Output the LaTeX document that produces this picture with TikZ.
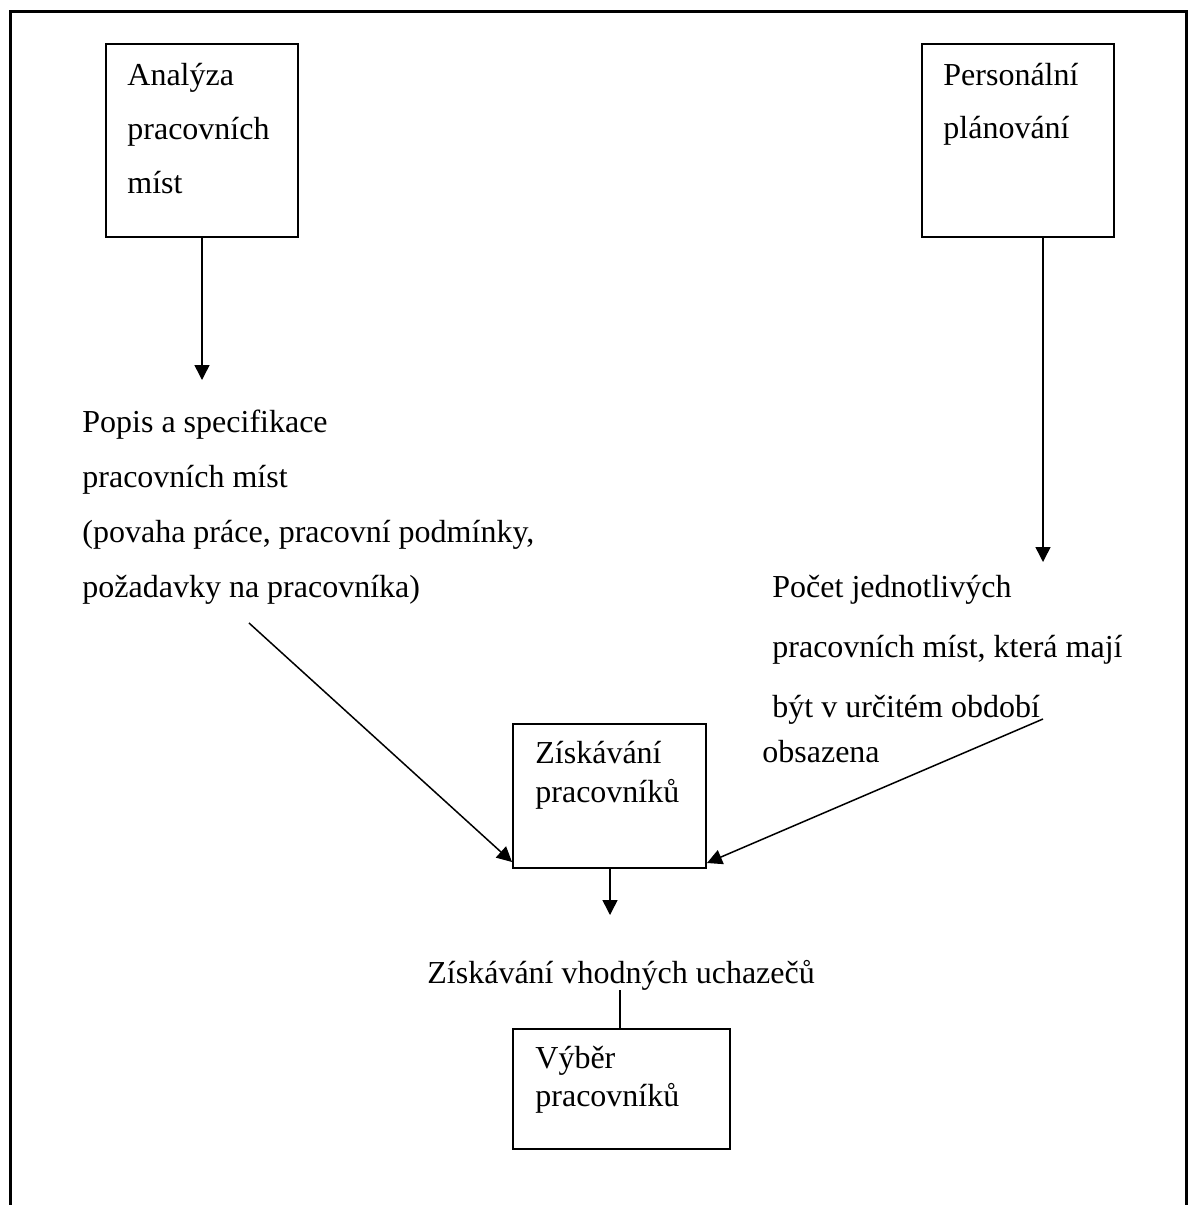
\documentclass[tikz,border=0pt]{standalone}
\usepackage{fontspec}
\setmainfont{Liberation Serif}
\usetikzlibrary{arrows.meta}

\begin{document}
\begin{tikzpicture}[x=0.5pt, y=-0.5pt,
    box/.style={draw, line width=1pt, inner sep=0pt},
    txt/.style={anchor=base west, inner sep=0pt, align=left, font=\fontsize{16}{#1}\selectfont},
    txt/.default=27.5,
    arr/.style={-{Triangle[length=7.5pt,width=7.5pt]}, line width=0.75pt}
]
    \useasboundingbox (0,0) rectangle (1191,1205);
    % Frame
    \draw[line width=1.5pt] (10,1205) -- (10,11) -- (1186,11) -- (1186,1205);

    % Top boxes (text nodes sit on their last line)
    \node[box, minimum width=96pt, minimum height=96.5pt] (ana) at (202,140.5) {};
    \node[txt=27] (anaText) at (127,193) {Analýza\\pracovních\\míst};
    \node[box, minimum width=96pt, minimum height=96.5pt] (pers) at (1018,140.5) {};
    \node[txt=26.5] (persText) at (943,138) {Personální\\plánování};

    % Texts in the middle
    \node[txt] (popis) at (82,597) {Popis a specifikace\\pracovních míst\\(povaha práce, pracovní podmínky,\\požadavky na pracovníka)};
    \node[txt=30] (pocet) at (772,717) {Počet jednotlivých\\pracovních míst, která mají\\být v určitém období};
    \node[txt] (obsaz) at (762,762) {obsazena};

    % Bottom boxes
    \node[box, minimum width=96.5pt, minimum height=72pt] (zisk) at (609.5,796) {};
    \node[txt=19.5] (ziskText) at (535,802) {Získávání\\pracovníků};
    \node[txt] (vhod) at (427,983) {Získávání vhodných uchazečů};
    \node[box, minimum width=108.5pt, minimum height=60pt] (vyber) at (621.5,1089) {};
    \node[txt=19] (vyberText) at (535,1106) {Výběr\\pracovníků};

    % Free ends
    \coordinate (popisTop) at (202,380);
    \coordinate (pocetTop) at (1043,562);
    \coordinate (popisEnd) at (249,623);
    \coordinate (pocetEnd) at (1043,719);
    \coordinate (ziskEnd) at (610,915);
    \coordinate (vhodEnd) at (620,990);

    % Connections
    \draw[arr] (ana) -- (popisTop);
    \draw[arr] (pers.south -| pocetTop) -- (pocetTop);
    \draw[arr] (popisEnd) -- ([yshift=3.5pt]zisk.south west);
    \draw[arr] (pocetEnd) -- ([yshift=3pt]zisk.south east);
    \draw[arr] (zisk.south -| ziskEnd) -- (ziskEnd);
    \draw[line width=0.75pt] (vhodEnd) -- (vhodEnd |- vyber.north);
\end{tikzpicture}
\end{document}
